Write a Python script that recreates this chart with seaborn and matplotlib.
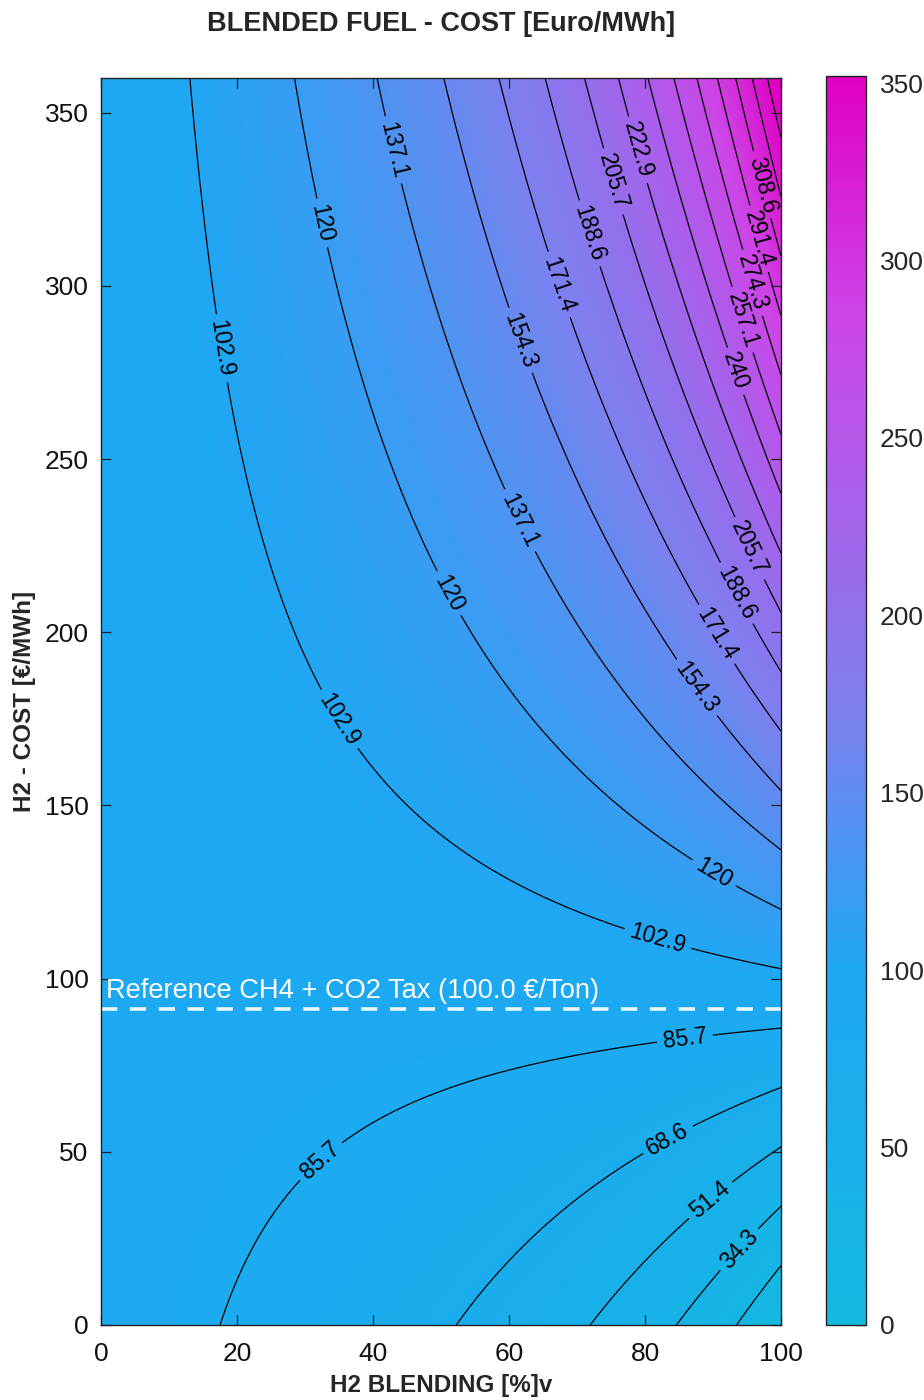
import numpy as np
import matplotlib
matplotlib.use("Agg")
import matplotlib.pyplot as plt
from matplotlib.colors import LinearSegmentedColormap, Normalize
import seaborn as sns

# --- blend model inputs -------------------------------------------------
h2_blend_pct = np.linspace(0, 100, 401)      # H2 share of the blend, % by volume
h2_cost = np.linspace(0, 360, 721)           # H2 price, EUR/MWh
lhv_h2 = 10.8          # MJ/Nm3
lhv_ch4 = 35.8         # MJ/Nm3
ch4_price = 71.0       # EUR/MWh
co2_tax = 100.0        # EUR/t
co2_intensity = 0.202  # t CO2 per MWh of natural gas

# contour levels shown on the map
contour_levels = np.linspace(0, 360, 22)[1:-1]

# colour stops of the cost scale (low -> high)
cost_colors = ["#14b9e0", "#1ea8f4", "#7d80f0", "#cd46e8", "#e000c4"]
cost_stops = [0.0, 100 / 352, 172 / 352, 284 / 352, 1.0]

# where the contour labels sit (level, blend %, H2 cost)
label_spots = [
    (102.9, 17.8, 282), (102.9, 35.1, 175), (102.9, 81.8, 111),
    (120.0, 32.2, 318), (120.0, 50.9, 211), (120.0, 90.0, 130),
    (137.1, 42.5, 339), (137.1, 61.3, 232),
    (154.3, 61.3, 284), (154.3, 87.6, 184),
    (171.4, 66.8, 300), (171.4, 91.0, 200),
    (188.6, 71.6, 315), (188.6, 93.2, 211),
    (205.7, 75.1, 330), (205.7, 95.1, 224),
    (222.9, 78.5, 339),
    (240.0, 92.8, 275),
    (257.1, 94.0, 290),
    (274.3, 94.3, 300),
    (291.4, 95.7, 313),
    (308.6, 96.9, 329),
    (85.7, 32.2, 47.6), (85.7, 85.9, 82.2),
    (68.6, 83.4, 53.4),
    (51.4, 90.0, 35.2),
    (34.3, 94.0, 21.6),
]

# --- blended cost on the grid -------------------------------------------
ref_cost = ch4_price + co2_tax * co2_intensity
X, Y = np.meshgrid(h2_blend_pct, h2_cost)
xv = X / 100.0
energy_share = xv * lhv_h2 / (xv * lhv_h2 + (1 - xv) * lhv_ch4)
blend_cost = energy_share * Y + (1 - energy_share) * ref_cost

# --- styling ------------------------------------------------------------
sns.set_style("white")
plt.rcParams["font.family"] = ["Liberation Sans", "DejaVu Sans"]
plt.rcParams["axes.edgecolor"] = "#222222"

cmap = LinearSegmentedColormap.from_list(
    "blend_cost", list(zip(cost_stops, sns.color_palette(cost_colors))))
norm = Normalize(vmin=0, vmax=352)

fig = plt.figure(figsize=(9.24, 14.0), dpi=100)
ax = fig.add_axes([101 / 924, 1 - 1325 / 1400, 680 / 924, 1247 / 1400])
cax = fig.add_axes([826 / 924, 1 - 1325 / 1400, 40 / 924, 1249 / 1400])

im = ax.imshow(blend_cost, extent=[0, 100, 0, 360], origin="lower",
               aspect="auto", cmap=cmap, norm=norm, interpolation="bilinear")


def level_fmt(v):
    s = f"{v:.1f}"
    return s[:-2] if s.endswith(".0") else s


# one contour set per level so each label lands on its own line
for lv in contour_levels:
    cs = ax.contour(X, Y, blend_cost, levels=[lv],
                    colors="black", linewidths=0.9)
    spots = [(x, y) for (l, x, y) in label_spots if abs(l - lv) < 0.06]
    if spots:
        ax.clabel(cs, manual=spots, inline=True, fmt=level_fmt,
                  fontsize=16.5, inline_spacing=6)

# reference line
ax.axhline(ref_cost, color="white", lw=2.6, ls=(0, (4.5, 3.5)), alpha=0.9)
ax.text(0.8, ref_cost + 1.4, f"Reference CH4 + CO2 Tax ({co2_tax:.1f} €/Ton)",
        color="white", fontsize=19.6, ha="left", va="bottom")

ax.set_xlim(0, 100)
ax.set_ylim(0, 360)
ax.set_xticks(np.arange(0, 101, 20))
ax.set_yticks(np.arange(0, 351, 50))
ax.tick_params(direction="in", length=7, width=0.9, labelsize=19,
               top=True, right=True, bottom=True, left=True, pad=9,
               colors="#222222", labelcolor="#111111")
ax.tick_params(axis="x", pad=12)
for s in ax.spines.values():
    s.set_linewidth(1.0)

ax.set_xlabel("H2 BLENDING [%]v", fontsize=17.5, fontweight="bold", labelpad=6)
ax.set_ylabel("H2 - COST [€/MWh]", fontsize=17.5, fontweight="bold", labelpad=6)
ax.set_title("BLENDED FUEL - COST [Euro/MWh]", fontsize=19.5, fontweight="bold",
             pad=34)

cb = fig.colorbar(im, cax=cax)
cb.set_ticks(np.arange(0, 351, 50))
cb.ax.tick_params(direction="in", length=7, width=0.9, labelsize=19, pad=10,
                  left=False, right=True)
cb.outline.set_linewidth(1.0)

fig.savefig("out.png", dpi=100, facecolor="white")
